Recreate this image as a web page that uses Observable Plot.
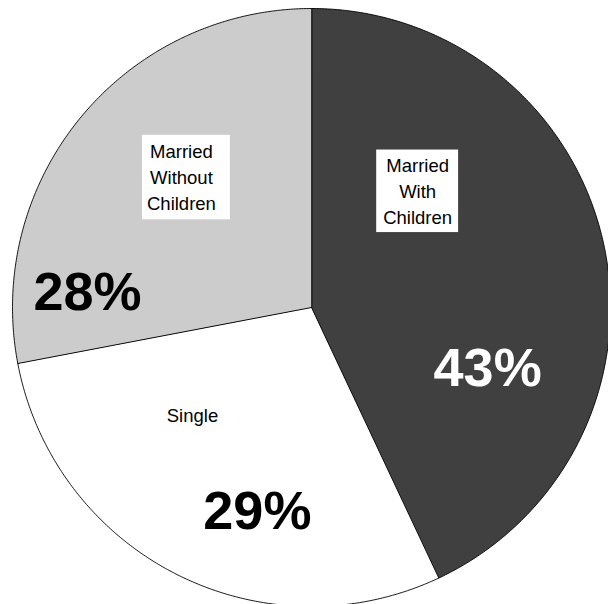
<!DOCTYPE html>
<html><head><meta charset="utf-8">
<script src="https://cdn.jsdelivr.net/npm/d3@7"></script>
<script src="https://cdn.jsdelivr.net/npm/@observablehq/plot@0.6"></script>
<style>html,body{margin:0;padding:0;overflow:hidden;background:#fff} svg{display:block}</style>
</head><body><div id="chart"></div>
<script>
// ---- data ----
const categories = ["Married With Children", "Single", "Married Without Children"];
const nameLabels = ["Married\nWith\nChildren", "Single", "Married\nWithout\nChildren"];
const shares = [43, 29, 28];

// ---- styles / layout (kept separate from data) ----
const sliceColors = ["#404040", "#ffffff", "#cccccc"];
const pctColors = ["#ffffff", "#000000", "#000000"];
// label anchors in pie units (center 0,0; radius 1)
const namePos = [[0.355, 0.395], [-0.398, -0.355], [-0.435, 0.441]];
const pctPos = [[0.589, -0.204], [-0.181, -0.682], [-0.749, 0.05]];
// box padding [left, right, top, bottom] in px
const boxPad = [[7, 6, 5, 4], [7, 7, 5, 4], [5, 14, 6, 5]];

const pie = d3.pie().sort(null).value(d => d)(shares);
function slicePoints(p) {
  const pts = [{x: 0, y: 0}];
  const n = Math.max(2, Math.ceil((p.endAngle - p.startAngle) / (Math.PI / 360)));
  for (let k = 0; k <= n; k++) {
    const a = p.startAngle + (p.endAngle - p.startAngle) * k / n;
    pts.push({x: Math.sin(a), y: Math.cos(a)});
  }
  return pts;
}

const idx = d3.range(categories.length);
const font = "Liberation Sans, Arial, Helvetica, sans-serif";

const chart = Plot.plot({
  width: 608,
  height: 604,
  margin: 0,
  x: {domain: [-1, 1], range: [12, 610], axis: null},
  y: {domain: [-1, 1], range: [606, 8], axis: null},
  marks: [
    ...pie.map((p, i) => Plot.line(slicePoints(p), {
      x: "x", y: "y", curve: "linear-closed",
      fill: sliceColors[i], stroke: "#000", strokeWidth: 0.9, strokeLinejoin: "round"
    })),
    Plot.text(idx, {
      x: i => namePos[i][0], y: i => namePos[i][1], text: i => nameLabels[i],
      fontSize: 18.5, lineHeight: 1.42, fill: "#000", fontFamily: font,
      className: "name-label"
    }),
    Plot.text(idx, {
      x: i => pctPos[i][0], y: i => pctPos[i][1], text: i => `${shares[i]}%`,
      fontSize: 54, fontWeight: "bold", fill: i => pctColors[i], fontFamily: font
    })
  ],
  color: {type: "identity"}
});

document.getElementById("chart").appendChild(chart);

// white boxes behind the category names
chart.querySelectorAll(".name-label text").forEach((t, k) => {
  const [pl, pr, pt, pb] = boxPad[k] || [7, 7, 5, 4];
  const b = t.getBBox();
  const r = document.createElementNS("http://www.w3.org/2000/svg", "rect");
  r.setAttribute("x", b.x - pl);
  r.setAttribute("y", b.y - pt);
  r.setAttribute("width", b.width + pl + pr);
  r.setAttribute("height", b.height + pt + pb);
  r.setAttribute("fill", "#fff");
  const tr = t.getAttribute("transform");
  if (tr) r.setAttribute("transform", tr);
  t.parentNode.insertBefore(r, t);
});
</script>
</body></html>
